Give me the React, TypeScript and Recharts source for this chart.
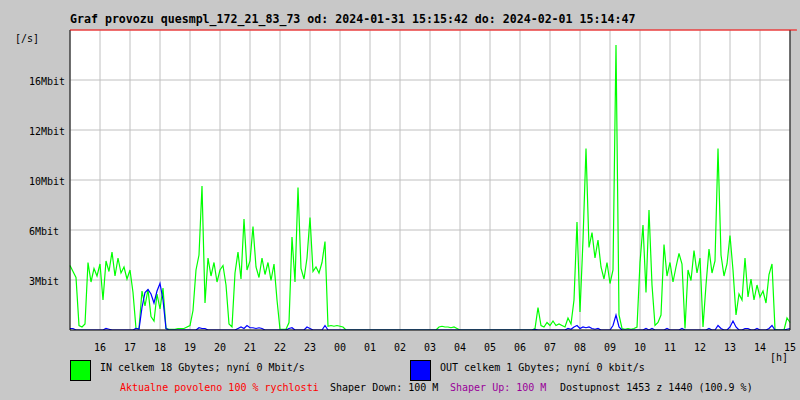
import { LineChart, Line, XAxis, YAxis, CartesianGrid, ReferenceLine } from "recharts";

// one sample every 6 minutes, 15:00 -> 15:00 next day (241 points)
const inMbit = [
  4.3, 3.9, 3.5, 0.3, 0.2, 0.4, 4.5, 3.2, 4.1, 3.6,
  4.4, 2.0, 4.6, 3.9, 5.2, 3.6, 4.8, 3.8, 4.2, 3.4,
  4.0, 2.5, 0.1, 0.1, 2.6, 1.6, 2.7, 0.9, 0.6, 2.4,
  1.4, 2.8, 0.1, 0.05, 0.05, 0.05, 0.1, 0.1, 0.1, 0.2,
  0.3, 1.3, 4.0, 5.0, 9.6, 1.8, 4.8, 3.6, 4.5, 3.2,
  4.0, 4.3, 3.0, 0.4, 0.2, 3.8, 5.2, 3.4, 7.4, 4.0,
  4.6, 6.9, 4.2, 3.5, 4.8, 3.7, 4.5, 3.3, 4.4, 2.0,
  0.05, 0.05, 0.05, 0.5, 6.2, 3.2, 9.5, 4.1, 3.4, 4.8,
  7.5, 3.9, 4.2, 3.8, 4.5, 5.9, 0.25, 0.3, 0.25, 0.3,
  0.25, 0.2, 0, 0, 0, 0, 0, 0, 0, 0,
  0, 0, 0, 0, 0, 0, 0, 0, 0, 0,
  0, 0, 0, 0, 0, 0, 0, 0, 0, 0,
  0, 0, 0, 0.2, 0.25, 0.2, 0.2, 0.15, 0.2, 0.1,
  0, 0, 0, 0, 0, 0, 0, 0, 0, 0,
  0, 0, 0, 0, 0, 0, 0, 0, 0, 0,
  0, 0, 0, 0, 0, 0.1, 1.5, 0.3, 0.2, 0.5,
  0.3, 0.6, 0.3, 0.4, 0.3, 0.2, 0.8, 0.4, 2.0, 7.2,
  1.2, 6.0, 12.1, 5.5, 6.5, 4.8, 6.0, 4.2, 3.4, 4.5,
  3.1, 4.0, 19.0, 1.0, 0.1, 0.05, 0.1, 0.05, 0.1, 0.2,
  4.5, 7.0, 2.5, 8.0, 3.0, 0.3, 0.5, 1.0, 5.7, 3.6,
  4.5, 3.2, 4.2, 5.1, 4.4, 0.1, 4.0, 3.3, 5.3, 3.8,
  4.8, 0.2, 3.0, 5.4, 3.8, 4.6, 12.1, 5.0, 3.6, 4.4,
  6.3, 4.0, 1.0, 2.4, 2.0, 4.8, 2.2, 3.4, 2.0, 3.0,
  2.2, 2.6, 1.8, 3.7, 4.4, 0.05, 0, 0, 0, 0.8,
  0.5,
];

const outMbit = [
  0.1, 0.1, 0, 0, 0, 0, 0, 0, 0, 0,
  0, 0, 0.1, 0.05, 0, 0, 0, 0, 0, 0,
  0, 0, 0.1, 0.05, 1.5, 2.5, 2.7, 2.4, 1.8, 2.6,
  3.1, 2.0, 0.1, 0, 0, 0, 0, 0, 0, 0,
  0, 0, 0, 0.15, 0.1, 0.1, 0, 0, 0, 0,
  0, 0, 0, 0, 0, 0, 0.1, 0.2, 0.1, 0.3,
  0.15, 0.15, 0.1, 0.15, 0.1, 0, 0, 0, 0, 0,
  0, 0, 0, 0.1, 0.15, 0, 0, 0, 0, 0.2,
  0.1, 0, 0, 0, 0, 0.3, 0, 0, 0, 0,
  0, 0, 0, 0, 0, 0, 0, 0, 0, 0,
  0, 0, 0, 0, 0, 0, 0, 0, 0, 0,
  0, 0, 0, 0, 0, 0, 0, 0, 0, 0,
  0, 0, 0, 0, 0, 0, 0, 0, 0, 0,
  0, 0, 0, 0, 0, 0, 0, 0, 0, 0,
  0, 0, 0, 0, 0, 0, 0, 0, 0, 0,
  0, 0, 0, 0, 0, 0.05, 0, 0, 0, 0,
  0, 0, 0, 0, 0, 0, 0.1, 0.05, 0.2, 0.3,
  0.1, 0.2, 0.15, 0.2, 0.1, 0.05, 0.1, 0, 0, 0,
  0, 0.3, 1.0, 0.2, 0, 0, 0, 0, 0, 0,
  0, 0, 0.1, 0, 0.1, 0, 0, 0, 0, 0.1,
  0, 0, 0, 0, 0.1, 0, 0, 0, 0, 0,
  0, 0, 0, 0.1, 0, 0, 0.3, 0.1, 0, 0,
  0.2, 0.6, 0.2, 0, 0, 0.1, 0.1, 0, 0, 0.1,
  0, 0, 0, 0.1, 0.3, 0, 0, 0, 0, 0.05,
  0.1,
];

const hourLabels = [
  "16", "17", "18", "19", "20", "21", "22", "23", "00", "01", "02", "03",
  "04", "05", "06", "07", "08", "09", "10", "11", "12", "13", "14", "15",
];
const hourTicks = hourLabels.map((_, i) => (i + 1) * 10);

const yTicks = [10 / 3, 20 / 3, 10, 40 / 3, 50 / 3];
const yLabels = ["3Mbit", "6Mbit", "10Mbit", "12Mbit", "16Mbit"];

const data = inMbit.map((v, i) => ({ t: i, in: v, out: outMbit[i] }));

const mono = "'DejaVu Sans Mono', monospace";

const HourTick = ({ x, payload }: any) => (
  <text x={x} y={347} textAnchor="middle" dominantBaseline="central" fontFamily={mono} fontSize={10} fill="#000">
    {hourLabels[Math.round(payload.value / 10) - 1]}
  </text>
);

const MbitTick = ({ y, index }: any) => (
  <text x={29} y={y + 1} textAnchor="start" dominantBaseline="central" fontFamily={mono} fontSize={10} fill="#000">
    {yLabels[index]}
  </text>
);

export default function App() {
  return (
    <div style={{ position: "absolute", left: 0, top: 0, width: 800, height: 400, background: "#c8c8c8" }}>
      <LineChart width={800} height={400} data={data} margin={{ top: 30, right: 10, bottom: 0, left: 0 }}>
        <CartesianGrid stroke="#c0c0c0" fill="#ffffff" fillOpacity={1} />
        <XAxis
          dataKey="t"
          type="number"
          domain={[0, 240]}
          ticks={hourTicks}
          interval={0}
          height={70}
          axisLine={false}
          tickLine={false}
          tick={HourTick}
        />
        <YAxis
          type="number"
          domain={[0, 20]}
          ticks={yTicks}
          interval={0}
          width={70}
          axisLine={false}
          tickLine={false}
          tick={MbitTick}
          allowDataOverflow
        />
        <Line type="linear" dataKey="in" stroke="#00ff00" strokeWidth={1.2} dot={false} isAnimationActive={false} />
        <Line type="linear" dataKey="out" stroke="#0000ff" strokeWidth={1.2} dot={false} isAnimationActive={false} />
        <ReferenceLine x={0} stroke="#000" strokeWidth={1} />
        <ReferenceLine x={240} stroke="#000" strokeWidth={1} />
        <ReferenceLine y={0} stroke="#000" strokeWidth={1} />
        <ReferenceLine
          segment={[{ x: 0, y: 20 }, { x: 242.3, y: 20 }]}
          stroke="#ff0000"
          strokeWidth={1}
          ifOverflow="visible"
        />
      </LineChart>
      <svg width={800} height={400} style={{ position: "absolute", left: 0, top: 0, pointerEvents: "none" }}>
        <text x={70} y={19} dominantBaseline="central" fontFamily={mono} fontSize={11.6} fontWeight="bold" fill="#000">
          Graf provozu quesmpl_172_21_83_73 od: 2024-01-31 15:15:42 do: 2024-02-01 15:14:47
        </text>
        <text x={15} y={38} dominantBaseline="central" fontFamily={mono} fontSize={10} fill="#000">[/s]</text>
        <text x={770} y={357} dominantBaseline="central" fontFamily={mono} fontSize={10} fill="#000">[h]</text>
        <rect x={70.5} y={360.5} width={20} height={20} fill="#00ff00" stroke="#000" />
        <text x={100} y={367} dominantBaseline="central" fontFamily={mono} fontSize={10} fill="#000">
          IN celkem 18 Gbytes; nyní 0 Mbit/s
        </text>
        <rect x={410.5} y={360.5} width={20} height={20} fill="#0000ff" stroke="#000" />
        <text x={440} y={367} dominantBaseline="central" fontFamily={mono} fontSize={10} fill="#000">
          OUT celkem 1 Gbytes; nyní 0 kbit/s
        </text>
        <text x={120} y={387} dominantBaseline="central" fontFamily={mono} fontSize={10} fill="#ff0000">
          Aktualne povoleno 100 % rychlosti
        </text>
        <text x={330} y={387} dominantBaseline="central" fontFamily={mono} fontSize={10} fill="#000">
          Shaper Down: 100 M
        </text>
        <text x={450} y={387} dominantBaseline="central" fontFamily={mono} fontSize={10} fill="#990099">
          Shaper Up: 100 M
        </text>
        <text x={560} y={387} dominantBaseline="central" fontFamily={mono} fontSize={10} fill="#000">
          Dostupnost 1453 z 1440 (100.9 %)
        </text>
      </svg>
    </div>
  );
}
